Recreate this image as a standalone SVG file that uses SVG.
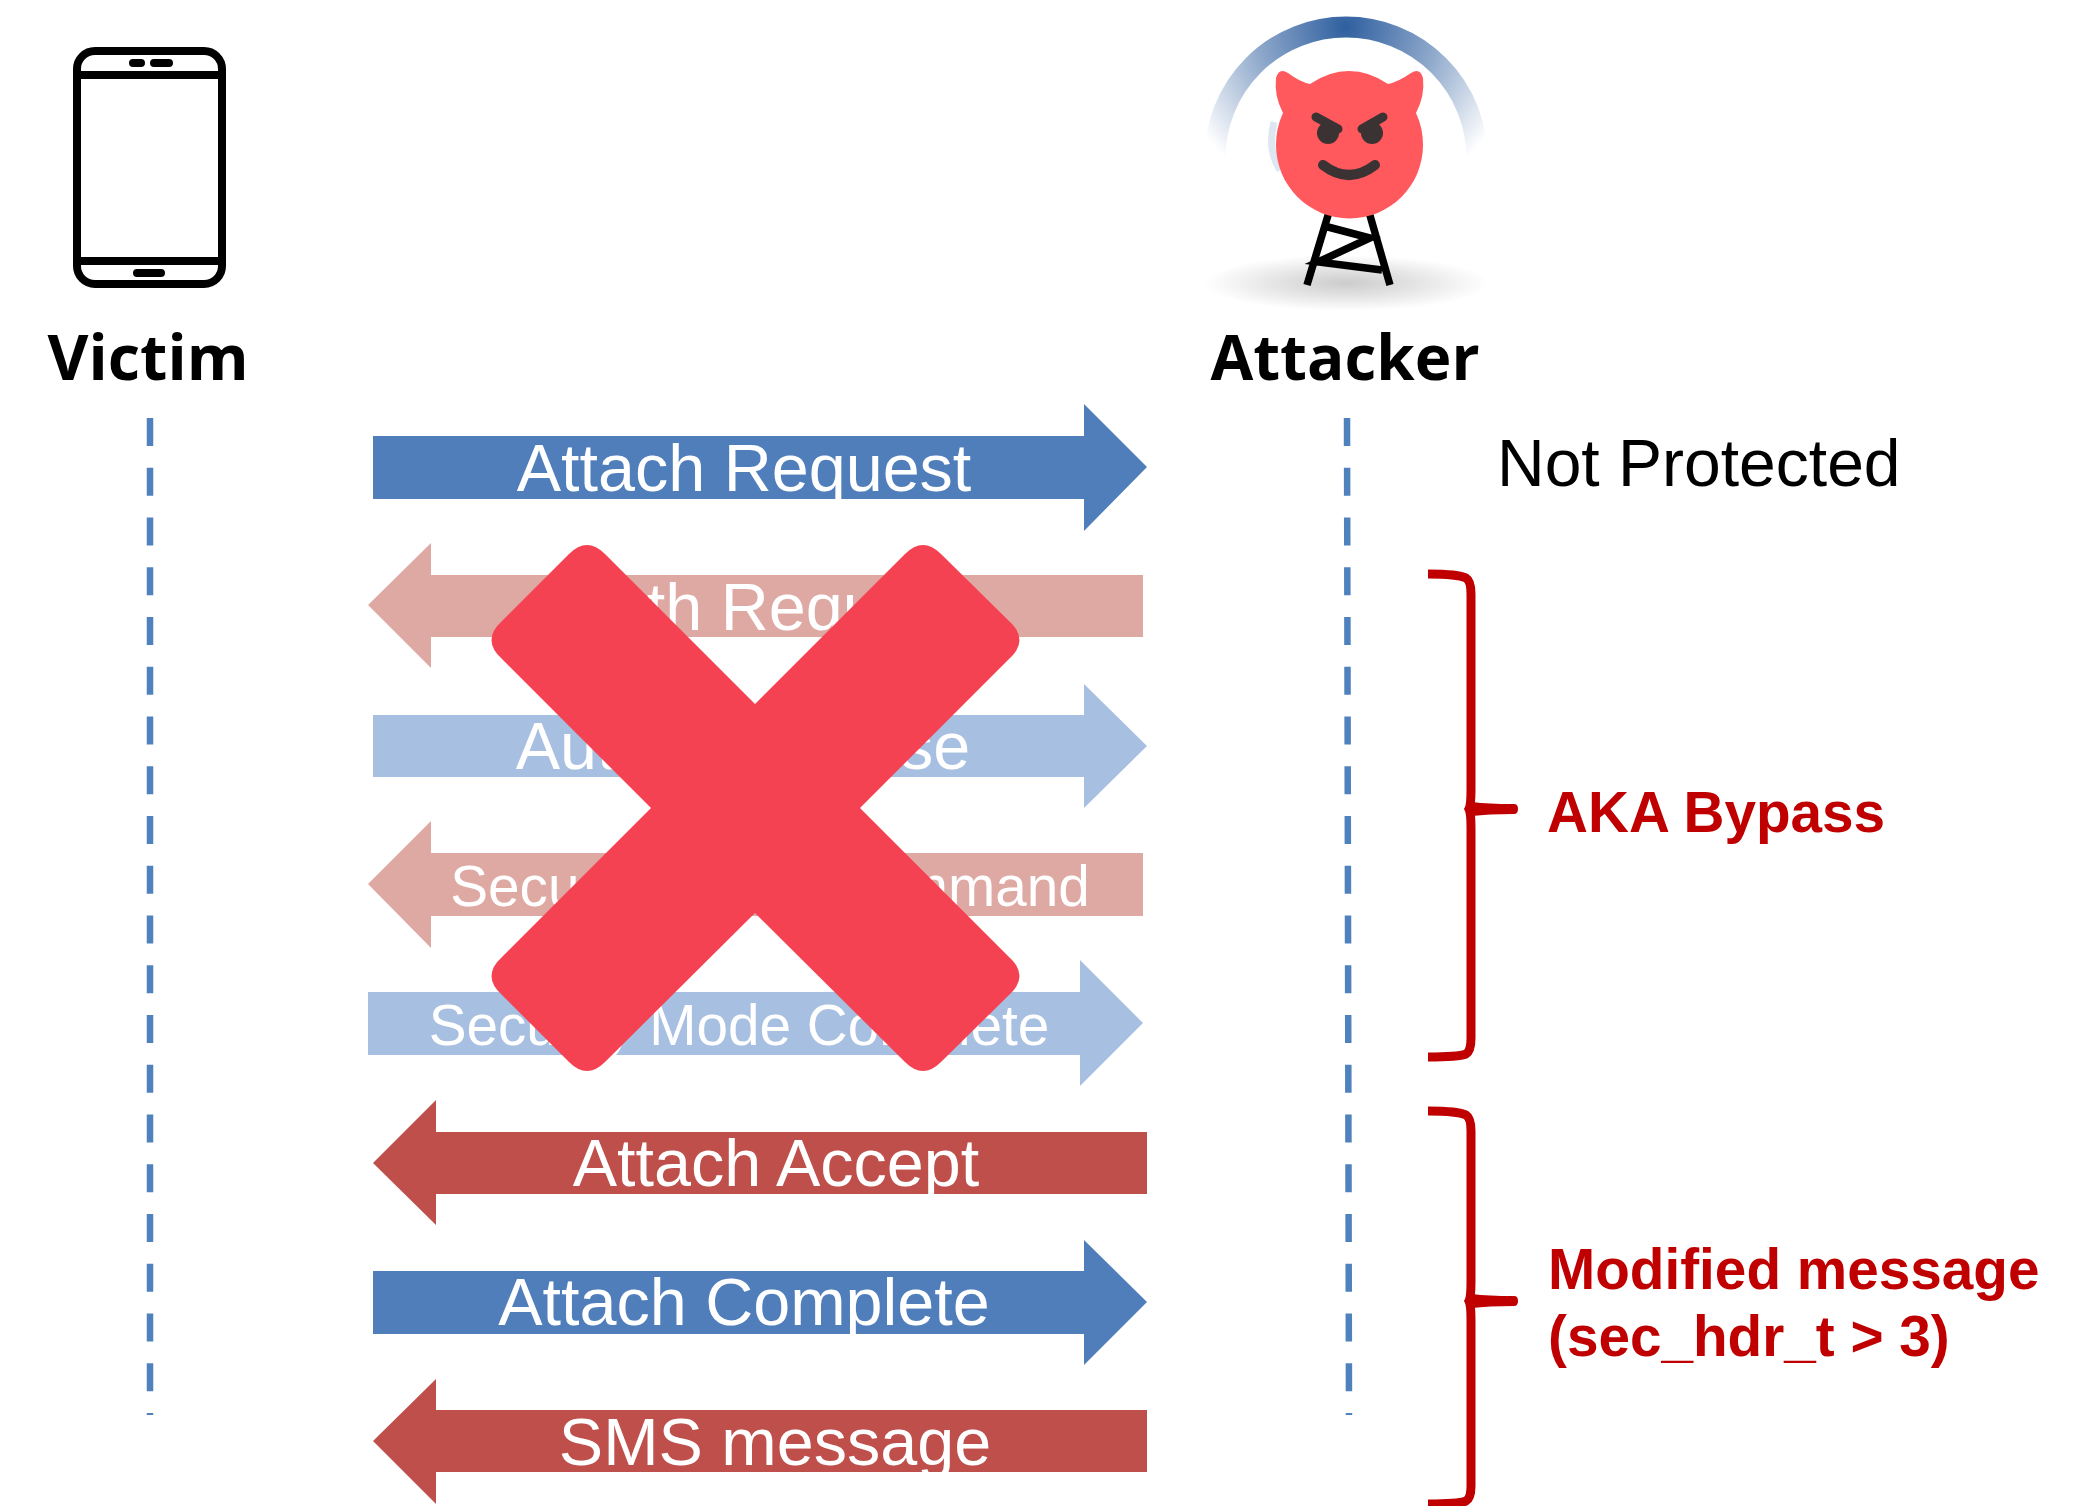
<svg xmlns="http://www.w3.org/2000/svg" width="2091" height="1506" viewBox="0 0 2091 1506">
<style>
.lbl{font-family:"Liberation Sans",Arial,sans-serif;fill:#fff;text-anchor:middle}
.l66{font-size:66.5px}.l57{font-size:56.7px}
.head{font-family:"Open Sans","Noto Sans",sans-serif;font-weight:700;font-size:62px;fill:#000;text-anchor:middle}
.red{font-family:"Liberation Sans",Arial,sans-serif;font-weight:700;font-size:56.7px;fill:#C00000}
.life{fill:none;stroke:#4F81BD;stroke-width:6.5;stroke-dasharray:28 21.75}
.brace{fill:none;stroke:#C00000;stroke-width:9}
.tip{fill:#C00000}
.blue{fill:#4F7EBB}.red-a{fill:#BE4F4B}.blue-f{fill:#A7BFE0}.red-f{fill:#DFA9A3}
.ph{fill:none;stroke:#000;stroke-width:8}
.pill{fill:none;stroke:#000;stroke-width:8;stroke-linecap:round}
.tw{fill:none;stroke:#000;stroke-width:7.5}
.fc{fill:none;stroke:#3B3233;stroke-linecap:round}
</style>
<defs>
<radialGradient id="arc" gradientUnits="userSpaceOnUse" cx="1346" cy="27" r="178">
<stop offset="0" stop-color="#2F5F9F"/><stop offset=".5" stop-color="#2F5F9F" stop-opacity=".55"/><stop offset="1" stop-color="#2F5F9F" stop-opacity="0"/>
</radialGradient>
<radialGradient id="sh"><stop offset="0" stop-color="#CCCCCC"/><stop offset=".45" stop-color="#E2E2E2"/><stop offset="1" stop-color="#fff"/></radialGradient>
</defs>
<rect width="2091" height="1506" fill="#fff"/>

<g id="victim">
<rect class="ph" x="77" y="51" width="145" height="233" rx="18"/>
<path class="ph" d="M77 75H222M77 261H222"/>
<path class="pill" d="M133 63H141M154 63H169M137 273H161"/>
<text class="head" style="font-size:63px" x="148" y="380">Victim</text>
</g>

<g id="attacker">
<ellipse cx="1346" cy="283" rx="142" ry="28" fill="url(#sh)"/>
<path d="M1215 158A131 131 0 0 1 1477 158" fill="none" stroke="url(#arc)" stroke-width="21"/>
<path d="M1274 122Q1267 150 1280 170" fill="none" stroke="#DDE6F1" stroke-width="7"/>
<path class="tw" d="M1329 212L1307 285M1369 212L1390 285M1328 227L1370 238L1318 262L1382 270"/>
<path fill="#FF585D" d="M1276 78Q1279 67 1288 73Q1300 82 1310 84Q1329 71 1349 71Q1369 71 1388 84Q1398 82 1411 73Q1420 67 1423 78Q1425 96 1416 113Q1423 128 1423 145A73.5 73.5 0 0 1 1276 145Q1276 128 1283 113Q1274 96 1276 78Z"/>
<circle cx="1328" cy="133" r="11" fill="#3B3233"/>
<circle cx="1372" cy="133" r="11" fill="#3B3233"/>
<path class="fc" stroke-width="9" d="M1316 117L1338 129M1383 117L1362 129"/>
<path class="fc" stroke-width="10" d="M1323 165Q1349 185 1375 165"/>
<text class="head" x="1345" y="380">Attacker</text>
</g>

<g id="connectors">
<path class="life" d="M150 418V1415"/>
<path class="life" d="M1347 418L1349 1415"/>
<polygon id="arrow-attach-request" class="blue" points="373,436 1084,436 1084,404 1147,467 1084,531 1084,499 373,499"/>
<polygon id="arrow-auth-request" class="red-f" points="1143,575 431,575 431,543 368,605 431,668 431,637 1143,637"/>
<polygon id="arrow-auth-response" class="blue-f" points="373,715 1084,715 1084,684 1147,746 1084,808 1084,777 373,777"/>
<polygon id="arrow-smc" class="red-f" points="1143,853 431,853 431,821 368,884 431,948 431,916 1143,916"/>
<polygon id="arrow-smcomplete" class="blue-f" points="368,992 1080,992 1080,960 1143,1023 1080,1086 1080,1055 368,1055"/>
<polygon id="arrow-attach-accept" class="red-a" points="1147,1132 436,1132 436,1100 373,1163 436,1225 436,1194 1147,1194"/>
<polygon id="arrow-attach-complete" class="blue" points="373,1271 1084,1271 1084,1240 1147,1302 1084,1365 1084,1334 373,1334"/>
<polygon id="arrow-sms" class="red-a" points="1147,1410 436,1410 436,1379 373,1441 436,1504 436,1472 1147,1472"/>
</g>

<g id="labels">
<text class="lbl l66" x="744" y="491">Attach Request</text>
<text class="lbl l66" x="767" y="630">Auth Request</text>
<text class="lbl l66" x="743" y="769">Auth Response</text>
<text class="lbl l57" x="770" y="906">Security Mode Command</text>
<text class="lbl l57" x="739" y="1045">Security Mode Complete</text>
<text class="lbl l66" x="776" y="1186">Attach Accept</text>
<text class="lbl l66" x="744" y="1325">Attach Complete</text>
<text class="lbl l66" x="775" y="1465">SMS message</text>
</g>

<g id="cross">
<path fill="#F44252" d="M755 704L605 554Q587 536 569 554L502 621Q481 640 502 659L651 808L502 957Q481 976 502 995L569 1062Q587 1080 605 1062L755 913L905 1062Q923 1080 941 1062L1009 995Q1030 976 1009 957L860 808L1009 659Q1030 640 1009 621L941 554Q923 536 905 554Z"/>
</g>

<g id="notes">
<text x="1497" y="486" font-family="Liberation Sans, Arial, sans-serif" font-size="66" fill="#000">Not Protected</text>
<path class="brace" d="M1428 574Q1458 574 1466 578Q1471 581 1471 594V790Q1471 805 1469 809Q1471 813 1471 828V1038Q1471 1051 1466 1054Q1458 1057 1428 1057"/>
<path class="tip" d="M1472 802Q1488 804 1514 804Q1518 804 1518 809Q1518 814 1514 814Q1488 814 1472 816Z"/>
<text class="red" x="1547" y="832">AKA Bypass</text>
<path class="brace" d="M1428 1111Q1458 1111 1466 1115Q1471 1118 1471 1131V1282Q1471 1297 1469 1301Q1471 1305 1471 1320V1486Q1471 1498 1466 1501Q1458 1504 1428 1504"/>
<path class="tip" d="M1472 1294Q1488 1296 1514 1296Q1518 1296 1518 1301Q1518 1306 1514 1306Q1488 1306 1472 1308Z"/>
<text class="red" x="1548" y="1289">Modified message</text>
<text class="red" x="1548" y="1356">(sec_hdr_t &gt; 3)</text>
</g>
</svg>
